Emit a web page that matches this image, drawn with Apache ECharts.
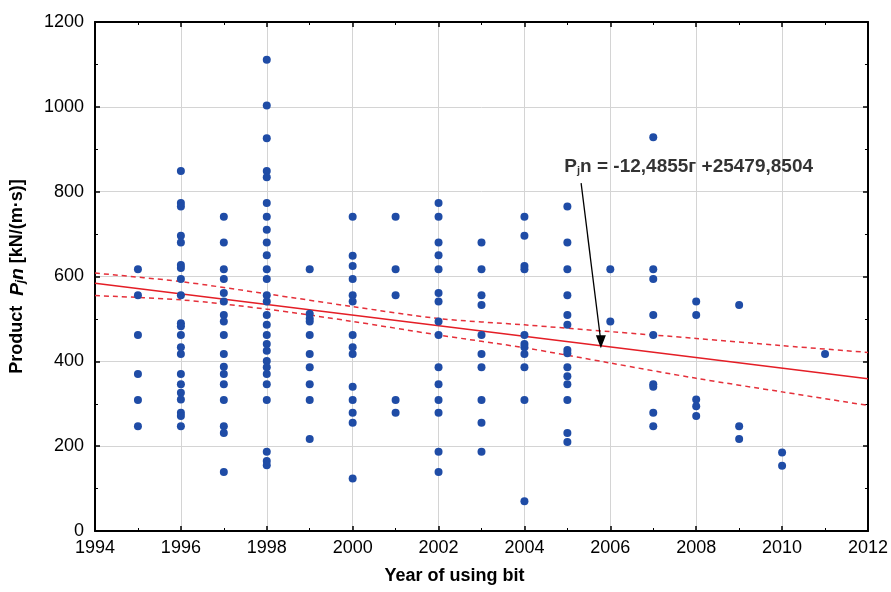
<!DOCTYPE html>
<html>
<head>
<meta charset="utf-8">
<script src="https://cdn.jsdelivr.net/npm/echarts@6/dist/echarts.min.js"></script>
<style>
html,body{margin:0;padding:0;background:#fff;}
#chart{width:891px;height:592px;}
</style>
</head>
<body>
<div id="chart"></div>
<script>
// ---- data ----
const v1995 = [617, 556, 462, 370, 309, 247];
const v1996 = [849, 773, 765, 696, 680, 627, 620, 594, 556, 490, 483, 462, 433, 417, 370, 346, 326, 310, 279, 271, 247];
const v1997 = [741, 680, 617, 594, 561, 541, 509, 494, 462, 417, 387, 370, 346, 309, 247, 231, 139];
const v1998 = [1111, 1003, 926, 849, 834, 773, 741, 710, 680, 650, 617, 594, 556, 541, 509, 486, 462, 441, 425, 401, 386, 370, 346, 309, 187, 165, 155];
const v1999 = [617, 512, 501, 494, 462, 417, 386, 346, 309, 217];
const v2000 = [741, 649, 625, 594, 556, 541, 462, 433, 417, 340, 309, 279, 255, 124];
const v2001 = [741, 617, 556, 309, 279];
const v2002 = [773, 741, 680, 650, 617, 561, 541, 494, 462, 386, 346, 309, 279, 187, 139];
const v2003 = [680, 617, 556, 533, 462, 417, 386, 309, 255, 187];
const v2004 = [741, 696, 625, 617, 462, 441, 433, 417, 386, 309, 70];
const v2005 = [765, 680, 617, 556, 509, 486, 427, 419, 386, 365, 346, 309, 231, 210];
const v2006 = [617, 494];
const v2007 = [928, 617, 594, 509, 462, 346, 340, 279, 247];
const v2008 = [541, 509, 310, 294, 271];
const v2009 = [533, 247, 217];
const v2010 = [185, 154];
const v2011 = [417];

const fitYears = [1994, 2012];
const fitValues = [584, 359];
const bandYears = [1994, 1996, 1998, 2000, 2002, 2004, 2006, 2008, 2010, 2012];
const bandUpper = [608, 588, 559, 529, 501, 486, 470, 454, 437, 421];
const bandLower = [555, 545, 523, 494, 462, 432, 396, 360, 328, 296];

const xTicks = [1994, 1996, 1998, 2000, 2002, 2004, 2006, 2008, 2010, 2012];
const yTicks = [0, 200, 400, 600, 800, 1000, 1200];

const equationText = ['P', 'j', 'n = -12,4855г +25479,8504'];
const labelAnchor = [2004.93, 859];
const arrowFrom = [2005.32, 820];
const arrowTo = [2005.78, 446];

// ---- build ----
const columns = {
  1995: v1995, 1996: v1996, 1997: v1997, 1998: v1998, 1999: v1999, 2000: v2000,
  2001: v2001, 2002: v2002, 2003: v2003, 2004: v2004, 2005: v2005, 2006: v2006,
  2007: v2007, 2008: v2008, 2009: v2009, 2010: v2010, 2011: v2011
};
const points = [];
Object.keys(columns).forEach(k => columns[k].forEach(v => points.push([Number(k), v])));
const zip = (a, b) => a.map((x, i) => [x, b[i]]);

const FONT = 'Liberation Sans, Arial, sans-serif';
const chart = echarts.init(document.getElementById('chart'), null, {renderer: 'canvas'});

const axisCommonX = {
  type: 'value', min: xTicks[0], max: xTicks[xTicks.length - 1], interval: 2
};
const axisCommonY = {
  type: 'value', min: yTicks[0], max: yTicks[yTicks.length - 1], interval: 200
};
const frameLine = {show: true, onZero: false, lineStyle: {color: '#000', width: 2}};
const majorTick = {show: true, inside: true, length: 5, lineStyle: {color: '#000', width: 1.5}};
const minorTickS = {show: true, splitNumber: 2, length: 3, lineStyle: {color: '#000', width: 1}};

chart.setOption({
  animation: false,
  backgroundColor: '#ffffff',
  grid: {left: 95, right: 22, top: 22, bottom: 61, containLabel: false},
  xAxis: [
    Object.assign({}, axisCommonX, {
      position: 'bottom',
      name: 'Year of using bit',
      nameLocation: 'middle',
      nameGap: 36,
      nameTextStyle: {fontFamily: FONT, fontWeight: 'bold', fontSize: 18, color: '#000', padding: [0, 54, 0, 0]},
      axisLine: frameLine,
      axisTick: majorTick,
      minorTick: minorTickS,
      axisLabel: {show: true, margin: 8, fontFamily: FONT, fontSize: 18, color: '#000', formatter: v => String(v)},
      splitLine: {show: true, lineStyle: {color: '#d4d4d4', width: 1}}
    }),
    Object.assign({}, axisCommonX, {
      position: 'top',
      axisLine: frameLine,
      axisTick: majorTick,
      minorTick: minorTickS,
      axisLabel: {show: false},
      splitLine: {show: false}
    })
  ],
  yAxis: [
    Object.assign({}, axisCommonY, {
      position: 'left',
      name: 'Product  {it|P}{sub|j}{it|n} [kN/(m·s)]',
      nameLocation: 'middle',
      nameGap: 68,
      nameRotate: 90,
      nameTextStyle: {
        fontFamily: FONT, fontWeight: 'bold', fontSize: 18, color: '#000',
        rich: {
          it: {fontFamily: FONT, fontWeight: 'bold', fontStyle: 'italic', fontSize: 19, color: '#000'},
          sub: {fontFamily: FONT, fontWeight: 'bold', fontStyle: 'italic', fontSize: 12, color: '#000', verticalAlign: 'bottom', padding: [7, 0, 0, 0]}
        }
      },
      axisLine: frameLine,
      axisTick: majorTick,
      minorTick: minorTickS,
      axisLabel: {show: true, margin: 11, fontFamily: FONT, fontSize: 18, color: '#000', formatter: v => String(v)},
      splitLine: {show: true, lineStyle: {color: '#d4d4d4', width: 1}}
    }),
    Object.assign({}, axisCommonY, {
      position: 'right',
      axisLine: frameLine,
      axisTick: majorTick,
      minorTick: minorTickS,
      axisLabel: {show: false},
      splitLine: {show: false}
    })
  ],
  series: [
    {
      type: 'line', name: 'upper', data: zip(bandYears, bandUpper), smooth: 0.3,
      showSymbol: false, symbol: 'none', z: 3,
      lineStyle: {color: '#e5303a', width: 1.5, type: [5, 4]}
    },
    {
      type: 'line', name: 'lower', data: zip(bandYears, bandLower), smooth: 0.3,
      showSymbol: false, symbol: 'none', z: 3,
      lineStyle: {color: '#e5303a', width: 1.5, type: [5, 4]}
    },
    {
      type: 'line', name: 'fit', data: zip(fitYears, fitValues),
      showSymbol: false, symbol: 'none', z: 3,
      lineStyle: {color: '#e41e26', width: 1.6},
      markLine: {
        silent: true, animation: false,
        symbol: ['none', 'triangle'], symbolSize: [10, 13], symbolRotate: 180,
        lineStyle: {color: '#000', width: 1.3, type: 'solid'},
        label: {show: false},
        data: [[{coord: arrowFrom}, {coord: arrowTo}]]
      }
    },
    {
      type: 'scatter', name: 'points', data: points,
      symbol: 'circle', symbolSize: 8, z: 4,
      itemStyle: {color: '#1f4ca6', opacity: 1}
    },
    {
      type: 'scatter', name: 'equation', data: [labelAnchor],
      symbolSize: 0, silent: true, z: 6,
      label: {
        show: true, position: 'right', distance: 0,
        formatter: '{b|' + equationText[0] + '}{s|' + equationText[1] + '}{b|' + equationText[2] + '}',
        rich: {
          b: {fontFamily: FONT, fontWeight: 'bold', fontSize: 19, color: '#000'},
          s: {fontFamily: FONT, fontWeight: 'bold', fontSize: 11, color: '#000', verticalAlign: 'bottom', padding: [9, 0, 0, 0]}
        }
      }
    }
  ]
});
</script>
</body>
</html>
